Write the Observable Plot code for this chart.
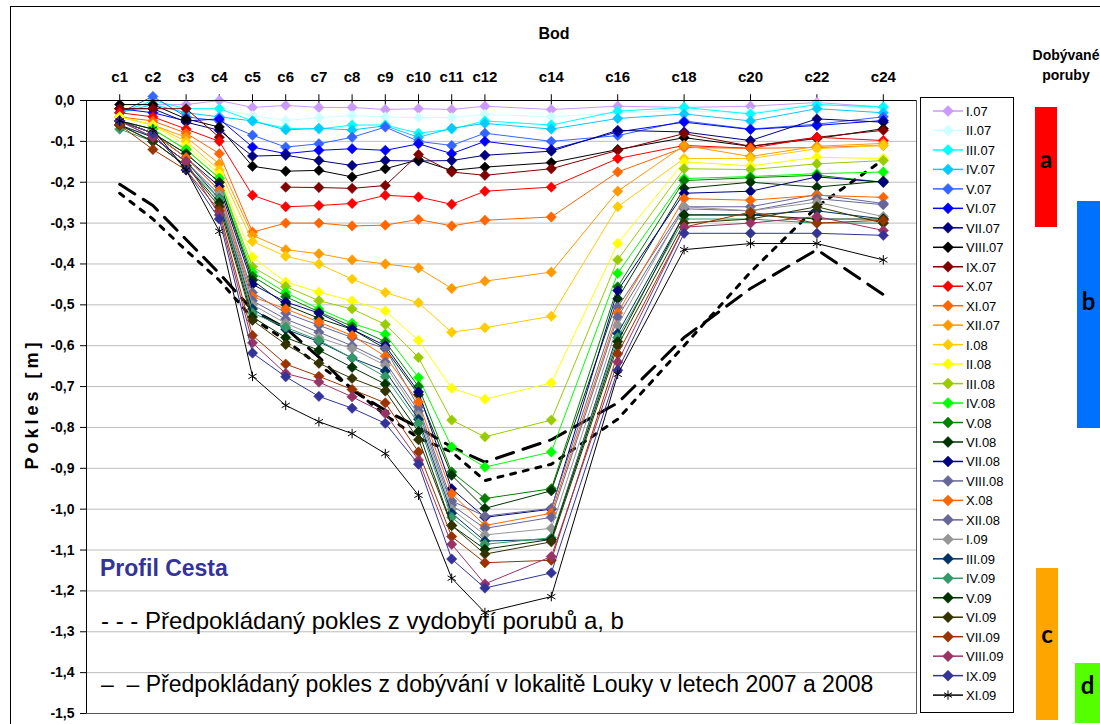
<!DOCTYPE html>
<html><head><meta charset="utf-8">
<script src="https://cdn.jsdelivr.net/npm/d3@7"></script>
<script src="https://cdn.jsdelivr.net/npm/@observablehq/plot@0.6"></script>
<style>
body{margin:0;background:#fff;}
svg{display:block;}
</style>
</head><body><div id="chart"></div>
<script>
// ---- data ----
const bod = [1,2,3,4,5,6,7,8,9,10,11,12,14,16,18,20,22,24];
const yTicks = [0,-0.1,-0.2,-0.3,-0.4,-0.5,-0.6,-0.7,-0.8,-0.9,-1.0,-1.1,-1.2,-1.3,-1.4,-1.5];
const serieNames = ["I.07","II.07","III.07","IV.07","V.07","VI.07","VII.07","VIII.07","IX.07","X.07","XI.07","XII.07",
  "I.08","II.08","III.08","IV.08","V.08","VI.08","VII.08","VIII.08","X.08","XII.08",
  "I.09","III.09","IV.09","V.09","VI.09","VII.09","VIII.09","IX.09","XI.09"];
const I_07    = [-0.01,-0.01,-0.01,0.00,-0.017,-0.012,-0.017,-0.017,-0.022,-0.02,-0.022,-0.014,-0.022,-0.014,-0.017,-0.014,-0.005,-0.016];
const II_07   = [-0.02,-0.01,-0.02,-0.02,-0.037,-0.049,-0.042,-0.037,-0.04,-0.042,-0.042,-0.034,-0.04,-0.03,-0.025,-0.03,-0.008,-0.02];
const III_07  = [-0.03,0.00,-0.02,-0.02,-0.05,-0.068,-0.07,-0.06,-0.06,-0.08,-0.07,-0.05,-0.06,-0.026,-0.017,-0.033,-0.01,-0.016];
const IV_07   = [-0.03,-0.01,-0.03,-0.04,-0.05,-0.072,-0.068,-0.072,-0.062,-0.09,-0.068,-0.056,-0.07,-0.044,-0.033,-0.05,-0.02,-0.03];
const V_07    = [-0.03,0.01,-0.04,-0.05,-0.085,-0.114,-0.106,-0.09,-0.065,-0.10,-0.11,-0.08,-0.10,-0.086,-0.05,-0.07,-0.058,-0.04];
const VI_07   = [-0.02,-0.03,-0.05,-0.045,-0.114,-0.13,-0.122,-0.118,-0.122,-0.106,-0.13,-0.10,-0.12,-0.077,-0.053,-0.071,-0.061,-0.049];
const VII_07  = [-0.02,-0.02,-0.053,-0.073,-0.136,-0.134,-0.147,-0.159,-0.147,-0.148,-0.147,-0.134,-0.124,-0.073,-0.077,-0.098,-0.045,-0.053];
const VIII_07 = [-0.01,-0.01,-0.045,-0.065,-0.161,-0.173,-0.171,-0.187,-0.167,-0.145,-0.171,-0.163,-0.152,-0.12,-0.091,-0.112,-0.093,-0.069];
const IX_07   = [-0.02,-0.02,-0.02,-0.09,null,-0.212,-0.213,-0.215,-0.208,-0.132,-0.175,-0.183,-0.167,-0.122,-0.081,-0.112,-0.09,-0.073];
const X_07    = [-0.03,-0.04,-0.07,-0.10,-0.232,-0.26,-0.257,-0.252,-0.232,-0.236,-0.254,-0.222,-0.212,-0.142,-0.11,-0.117,-0.09,-0.098];
const XI_07   = [-0.04,-0.05,-0.08,-0.13,-0.322,-0.30,-0.30,-0.307,-0.305,-0.291,-0.307,-0.293,-0.285,-0.175,-0.115,-0.117,-0.115,-0.11];
const XII_07  = [-0.04,-0.06,-0.09,-0.155,-0.33,-0.365,-0.375,-0.39,-0.40,-0.41,-0.46,-0.442,-0.42,-0.222,-0.11,-0.137,-0.112,-0.105];
const I_08    = [-0.04,-0.06,-0.10,-0.17,-0.345,-0.381,-0.40,-0.437,-0.47,-0.495,-0.567,-0.556,-0.528,-0.26,-0.142,-0.142,-0.118,-0.11];
const II_08   = [-0.04,-0.06,-0.11,-0.18,-0.383,-0.444,-0.469,-0.49,-0.515,-0.587,-0.704,-0.731,-0.691,-0.35,-0.15,-0.16,-0.139,-0.142];
const III_08  = [-0.05,-0.07,-0.12,-0.19,-0.407,-0.455,-0.49,-0.51,-0.548,-0.629,-0.782,-0.823,-0.782,-0.39,-0.167,-0.169,-0.155,-0.147];
const IV_08   = [-0.05,-0.07,-0.12,-0.19,-0.42,-0.47,-0.51,-0.545,-0.572,-0.678,-0.848,-0.897,-0.86,-0.423,-0.191,-0.186,-0.179,-0.175];
const V_08    = [-0.05,-0.08,-0.13,-0.20,-0.43,-0.48,-0.517,-0.553,-0.59,-0.70,-0.909,-0.974,-0.95,-0.456,-0.196,-0.189,-0.183,-0.20];
const VI_08   = [-0.05,-0.08,-0.13,-0.20,-0.44,-0.50,-0.533,-0.56,-0.607,-0.72,-0.917,-0.998,-0.955,-0.485,-0.215,-0.20,-0.212,-0.197];
const VII_08  = [-0.05,-0.08,-0.14,-0.21,-0.45,-0.493,-0.52,-0.56,-0.60,-0.713,-0.95,-1.02,-1.0,-0.465,-0.227,-0.222,-0.187,-0.20];
const VIII_08 = [-0.05,-0.08,-0.14,-0.22,-0.47,-0.52,-0.55,-0.58,-0.607,-0.75,-0.98,-1.017,-0.998,-0.506,-0.26,-0.26,-0.23,-0.252];
const X_08    = [-0.05,-0.08,-0.14,-0.22,-0.48,-0.51,-0.542,-0.575,-0.626,-0.738,-0.962,-1.04,-1.01,-0.52,-0.24,-0.244,-0.232,-0.237];
const XII_08  = [-0.05,-0.09,-0.15,-0.23,-0.49,-0.535,-0.567,-0.60,-0.64,-0.76,-0.99,-1.047,-1.02,-0.53,-0.265,-0.27,-0.24,-0.255];
const I_09    = [-0.06,-0.09,-0.15,-0.23,-0.50,-0.545,-0.58,-0.607,-0.648,-0.77,-1.0,-1.063,-1.047,-0.55,-0.26,-0.27,-0.249,-0.284];
const III_09  = [-0.06,-0.09,-0.15,-0.24,-0.51,-0.56,-0.59,-0.63,-0.662,-0.78,-1.01,-1.078,-1.074,-0.57,-0.28,-0.28,-0.27,-0.29];
const IV_09   = [-0.07,-0.10,-0.16,-0.24,-0.52,-0.555,-0.587,-0.63,-0.676,-0.79,-1.02,-1.086,-1.07,-0.58,-0.29,-0.29,-0.30,-0.30];
const V_09    = [-0.06,-0.10,-0.16,-0.25,-0.53,-0.58,-0.611,-0.653,-0.694,-0.81,-1.04,-1.098,-1.074,-0.59,-0.28,-0.28,-0.29,-0.29];
const VI_09   = [-0.06,-0.10,-0.16,-0.26,-0.538,-0.597,-0.643,-0.68,-0.711,-0.83,-1.04,-1.11,-1.08,-0.60,-0.30,-0.29,-0.26,-0.30];
const VII_09  = [-0.06,-0.12,-0.17,-0.27,-0.575,-0.645,-0.675,-0.707,-0.74,-0.86,-1.067,-1.131,-1.125,-0.62,-0.31,-0.273,-0.30,-0.293];
const VIII_09 = [-0.05,-0.09,-0.15,-0.28,-0.593,-0.668,-0.689,-0.725,-0.766,-0.88,-1.086,-1.183,-1.116,-0.64,-0.31,-0.30,-0.284,-0.318];
const IX_09   = [-0.05,-0.08,-0.17,-0.29,-0.618,-0.676,-0.724,-0.753,-0.79,-0.89,-1.122,-1.193,-1.156,-0.66,-0.325,-0.325,-0.325,-0.33];
const XI_09   = [-0.05,-0.07,-0.17,-0.32,-0.675,-0.746,-0.786,-0.815,-0.864,-0.966,-1.169,-1.253,-1.214,-0.67,-0.365,-0.35,-0.35,-0.39];
const predAB     = [-0.227,-0.29,-0.367,-0.44,-0.533,-0.587,-0.648,-0.704,-0.77,-0.826,-0.86,-0.93,-0.89,-0.78,-0.60,-0.42,-0.26,-0.145];
const predLouky  = [-0.205,-0.257,-0.34,-0.423,-0.513,-0.557,-0.628,-0.709,-0.758,-0.80,-0.848,-0.885,-0.83,-0.74,-0.58,-0.46,-0.365,-0.475];
const serieValues = [I_07,II_07,III_07,IV_07,V_07,VI_07,VII_07,VIII_07,IX_07,X_07,XI_07,XII_07,
  I_08,II_08,III_08,IV_08,V_08,VI_08,VII_08,VIII_08,X_08,XII_08,
  I_09,III_09,IV_09,V_09,VI_09,VII_09,VIII_09,IX_09,XI_09];
const poruby = ["a","b","c","d"];

// ---- styles ----
const serieColors = ["#cc99ff","#ccffff","#00ffff","#00ccff","#3366ff","#0000ff","#000080","#000000","#800000","#ff0000","#ff6600","#ff9900",
  "#ffcc00","#ffff00","#99cc00","#00ff00","#008000","#003300","#000080","#666699","#ff6600","#666699",
  "#969696","#003366","#339966","#003300","#333300","#993300","#993366","#333399","#000000"];
const FONT = "Arial, 'Liberation Sans', sans-serif";
const diamondSym = {draw(ctx, size){const r = Math.sqrt(size/Math.PI); ctx.moveTo(0,-r); ctx.lineTo(r,0); ctx.lineTo(0,r); ctx.lineTo(-r,0); ctx.closePath();}};
const toRows = vals => bod.map((b,i)=>({b, v: vals[i]==null ? NaN : vals[i]}));

const marks = [
  Plot.gridY(yTicks, {stroke:"#bdbdbd", strokeOpacity:1, strokeWidth:1}),
  Plot.axisY(yTicks, {tickFormat: d => d.toFixed(1).replace(".", ","), fontSize:14, fontWeight:"bold", tickSize:6, tickPadding:6, label:null}),
  Plot.axisX(bod, {anchor:"top", tickFormat: d => "c"+d, fontSize:15, fontWeight:"bold", tickSize:0, tickPadding:19, label:null}),
  Plot.ruleX(bod, {x: d=>d, y1: 0.014, y2: -0.012, stroke:"#000"}),
  Plot.line(toRows(predAB), {x:"b", y:"v", stroke:"#000", strokeWidth:3, strokeDasharray:"5,8"}),
  Plot.line(toRows(predLouky), {x:"b", y:"v", stroke:"#000", strokeWidth:3, strokeDasharray:"18,10"})
];
serieValues.forEach((vals, i) => {
  const rows = toRows(vals);
  const star = serieNames[i] === "XI.09";
  marks.push(Plot.line(rows, {x:"b", y:"v", stroke: serieColors[i], strokeWidth:1}));
  marks.push(Plot.dot(rows.filter(r => !isNaN(r.v)), star
    ? {x:"b", y:"v", symbol:"asterisk", r:4.5, stroke:serieColors[i], strokeWidth:1}
    : {x:"b", y:"v", symbol:diamondSym, r:5.2, fill:serieColors[i], stroke:serieColors[i], strokeWidth:0.5}));
});
marks.push(Plot.frame({stroke:"#555"}));
marks.push(Plot.ruleX([0], {stroke:"#000"}));
marks.push(Plot.ruleY([0], {stroke:"#000"}));

const chart = Plot.plot({
  width:1100, height:724,
  marginLeft:86, marginRight:184, marginTop:100, marginBottom:11,
  x:{domain:[0,25]},
  y:{domain:[-1.5,0]},
  style:{fontFamily:FONT, background:"#fff", overflow:"visible"},
  marks
});
document.getElementById("chart").appendChild(chart);

// ---- annotations, legend, side bars ----
const svg = d3.select(chart);
svg.insert("rect", ":first-child").attr("x",10.5).attr("y",6.5).attr("width",1200).attr("height",800)
  .attr("fill","none").attr("stroke","#000").attr("stroke-width",1);

const T = (x,y,txt,size,weight,anchor,fill) => svg.append("text").attr("x",x).attr("y",y).text(txt)
  .attr("font-family",FONT).attr("font-size",size).attr("font-weight",weight||"normal")
  .attr("text-anchor",anchor||"start").attr("fill",fill||"#000");

T(554, 39, "Bod", 16, "bold", "middle");
svg.append("text").attr("transform","translate(38,404) rotate(-90)").attr("text-anchor","middle")
  .attr("font-family",FONT).attr("font-size",18).attr("font-weight","bold").attr("letter-spacing","4px").text("Pokles [m]");
T(100, 576, "Profil Cesta", 23, "bold", "start", "#333399");
T(101, 629, "-\u00a0-\u00a0-\u00a0Předpokládaný pokles z vydobytí porubů a, b", 24);
T(101, 692, "–\u00a0\u00a0–\u00a0Předpokládaný pokles z dobývání v lokalitě Louky v letech 2007 a 2008", 23);

// legend
const lg = svg.append("g");
lg.append("rect").attr("x",920.5).attr("y",97.5).attr("width",93).attr("height",615).attr("fill","#fff").attr("stroke","#000");
serieNames.forEach((n,i) => {
  const y = 111 + i*19.47;
  const c = serieColors[i];
  lg.append("line").attr("x1",933).attr("x2",963).attr("y1",y).attr("y2",y).attr("stroke",c).attr("stroke-width",1.5);
  if (n === "XI.09") {
    lg.append("path").attr("d", d3.symbol(d3.symbolAsterisk, 60)()).attr("transform",`translate(948,${y})`).attr("stroke",c).attr("fill","none");
  } else {
    lg.append("path").attr("d","M0,-5.5L5.5,0L0,5.5L-5.5,0Z").attr("transform",`translate(948,${y})`).attr("fill",c).attr("stroke",c).attr("stroke-width",0.5);
  }
  lg.append("text").attr("x",966).attr("y",y+5).text(n).attr("text-anchor","start")
    .attr("font-family",FONT).attr("font-size",13).attr("fill","#000");
});

// Dobývané poruby
T(1066, 60, "Dobývané", 14, "bold", "middle");
T(1066, 80, "poruby", 14, "bold", "middle");
const bars = [
  {x:1035, y:107, w:22, h:120, fill:"#ff0000", ty:168},
  {x:1077, y:201, w:30, h:227, fill:"#0070ff", ty:310},
  {x:1036, y:568, w:22, h:152, fill:"#ffa500", ty:643},
  {x:1075, y:663, w:30, h:60,  fill:"#55ff00", ty:694}
];
bars.forEach((b,i) => {
  svg.append("rect").attr("x",b.x).attr("y",b.y).attr("width",b.w).attr("height",b.h).attr("fill",b.fill);
  svg.append("text").attr("x", b.x + Math.min(b.w, 1100-b.x)/2).attr("y", b.ty).attr("text-anchor","middle")
    .attr("font-family","Lato, 'Open Sans', sans-serif").attr("font-weight","bold").attr("font-size",24).attr("fill","#000").text(poruby[i]);
});
</script>
</body></html>
